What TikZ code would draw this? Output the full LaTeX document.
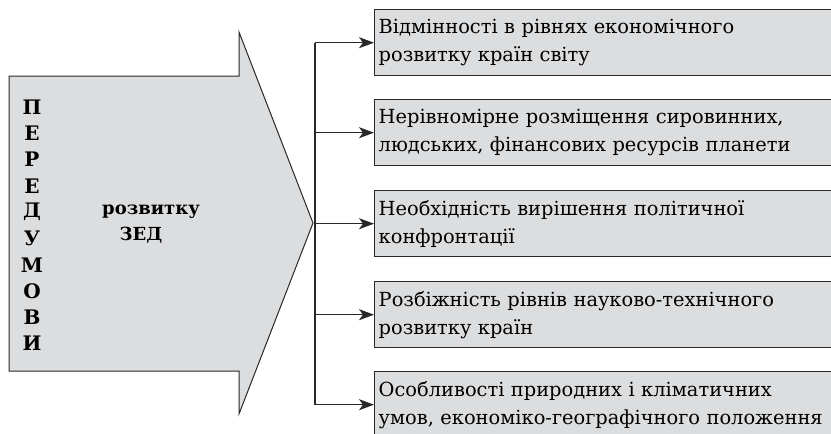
\documentclass[tikz,border=0pt]{standalone}
\usepackage{fontspec}
\setmainfont{DejaVu Serif}
\usetikzlibrary{arrows.meta}
\definecolor{boxfill}{RGB}{220,221,223}
\definecolor{edge}{RGB}{40,40,40}
\begin{document}
\begin{tikzpicture}[x=1pt,y=-1pt,
  causebox/.style={draw=edge, line width=1.4pt, fill=boxfill, anchor=north west,
    minimum width=480pt, minimum height=66pt, inner xsep=3pt,
    text width=472pt, align=left, font=\fontsize{19.4}{28}\selectfont},
  link/.style={draw=edge, line width=1.3pt},
  arrowtip/.style={-{Stealth[length=15pt,width=11pt,inset=4pt]}},
  vword/.style={font=\fontsize{18}{20}\selectfont\bfseries, inner sep=0pt},
  vletter/.style={font=\fontsize{20}{20}\selectfont\bfseries, inner sep=0pt}]
\path[use as bounding box, clip] (0,0) rectangle (831,434);

% large arrow pointing right
\draw[draw=edge, line width=1pt, fill=boxfill]
  (9,76) -- (239,76) -- (239,32) -- (313,223) -- (239,414) -- (239,371) -- (9,371) -- cycle;

% vertical word inside the arrow
\foreach \ch [count=\i] in {П,Е,Р,Е,Д,У,М,О,В,И}
  \node[vletter] (v\i) at (32,{107+26.3*(\i-1)}) {\ch};
\node[vword] (w1) at (151,212) {розвитку};
\node[vword] (w2) at (141,235) {ЗЕД};

% boxes on the right
\node[causebox] (b1) at (374,9)   {Відмінності в рівнях економічного\\розвитку країн світу};
\node[causebox] (b2) at (374,99)  {Нерівномірне розміщення сировинних,\\людських, фінансових ресурсів планети};
\node[causebox] (b3) at (374,190) {Необхідність вирішення політичної\\конфронтації};
\node[causebox] (b4) at (374,281) {Розбіжність рівнів науково-технічного\\розвитку країн};
\node[causebox] (b5) at (374,371) {Особливості природних і кліматичних\\умов, економіко-географічного положення};

% branching connectors
\foreach \i in {1,...,5}
  \coordinate (j\i) at (315,{0}|-b\i.west);
\draw[link] (j1) -- (j5);
\foreach \i in {1,...,5}
  \draw[link, arrowtip] (j\i) -- (b\i.west);
\end{tikzpicture}
\end{document}
